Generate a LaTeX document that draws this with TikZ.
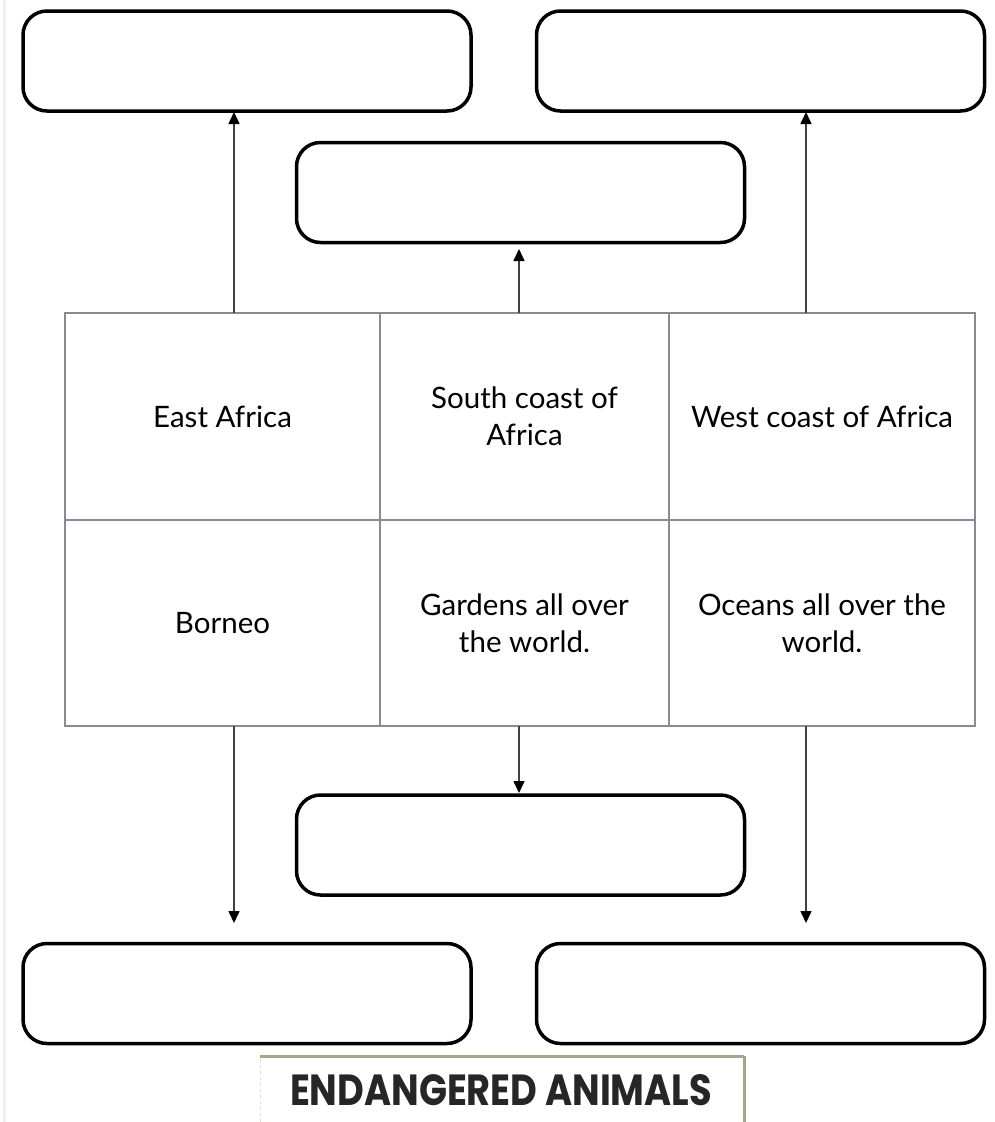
\documentclass[tikz,border=0pt]{standalone}
\usepackage{fontspec}
\setmainfont{Lato}
\newfontfamily\titlefont{Poppins}
\usetikzlibrary{arrows.meta}
\definecolor{gridgray}{HTML}{8A8A96}
\definecolor{olive}{HTML}{A6A78A}
\tikzset{
  answerbox/.style={draw=black, line width=3.5pt, rounded corners=24pt, minimum width=448pt, minimum height=100pt, inner sep=0pt},
  cell/.style={draw=gridgray, line width=1.8pt, inner sep=0pt, align=center, font=\fontsize{29.5}{37}\selectfont},
  link/.style={draw=black!75, line width=1.6pt, -{Triangle[length=12pt,width=11pt,color=black]}}
}
\begin{document}
\begin{tikzpicture}[x=1pt,y=-1pt]
\useasboundingbox (0,0) rectangle (994,1122);
\fill[white] (0,0) rectangle (994,1122);
\draw[gray!12, line width=3pt] (4,0) -- (4,1122);
% answer boxes
\node[answerbox] (tl) at (247,61) {};
\node[answerbox] (tr) at (760.5,61) {};
\node[answerbox] (tm) at (520.5,192.5) {};
\node[answerbox] (bm) at (520.5,845) {};
\node[answerbox] (bl) at (247,993.5) {};
\node[answerbox] (br) at (760.5,993.5) {};
% table cells
\node[cell, minimum width=315pt, minimum height=207pt] (c11) at (222.5,416.5) {East Africa};
\node[cell, minimum width=289pt, minimum height=207pt] (c12) at (524.5,416.5) {South coast of\\Africa};
\node[cell, minimum width=306pt, minimum height=207pt] (c13) at (822,416.5) {West coast of Africa};
\node[cell, minimum width=315pt, minimum height=206pt] (c21) at (222.5,623) {Borneo};
\node[cell, minimum width=289pt, minimum height=206pt] (c22) at (524.5,623) {Gardens all over\\the world.};
\node[cell, minimum width=306pt, minimum height=206pt] (c23) at (822,623) {Oceans all over the\\world.};
% arrow anchors
\coordinate (a1s) at (234,313);
\coordinate (a1e) at (234,112);
\coordinate (a2s) at (519,313);
\coordinate (a2e) at (519,249);
\coordinate (a3s) at (806,313);
\coordinate (a3e) at (806,112);
\coordinate (b1s) at (234,726);
\coordinate (b1e) at (234,923);
\coordinate (b2s) at (519,726);
\coordinate (b2e) at (519,793);
\coordinate (b3s) at (806,726);
\coordinate (b3e) at (806,923);
\draw[link] (a1s) -- (a1e);
\draw[link] (a2s) -- (a2e);
\draw[link] (a3s) -- (a3e);
\draw[link] (b1s) -- (b1e);
\draw[link] (b2s) -- (b2e);
\draw[link] (b3s) -- (b3e);
% title box
\coordinate (t1) at (260,1122);
\coordinate (t2) at (260,1056);
\coordinate (t3) at (744,1056);
\coordinate (t4) at (744,1122);
\draw[olive!40, line width=1pt, dashed] (t1) -- (t2);
\draw[olive, line width=3pt] (t2) -- (t3);
\draw[olive, line width=3pt] (t3) -- (t4);
\node[inner sep=0pt] (title) at (501,1090) {\resizebox{422pt}{31pt}{\titlefont\bfseries\color{black!85}ENDANGERED ANIMALS}};
\end{tikzpicture}
\end{document}
